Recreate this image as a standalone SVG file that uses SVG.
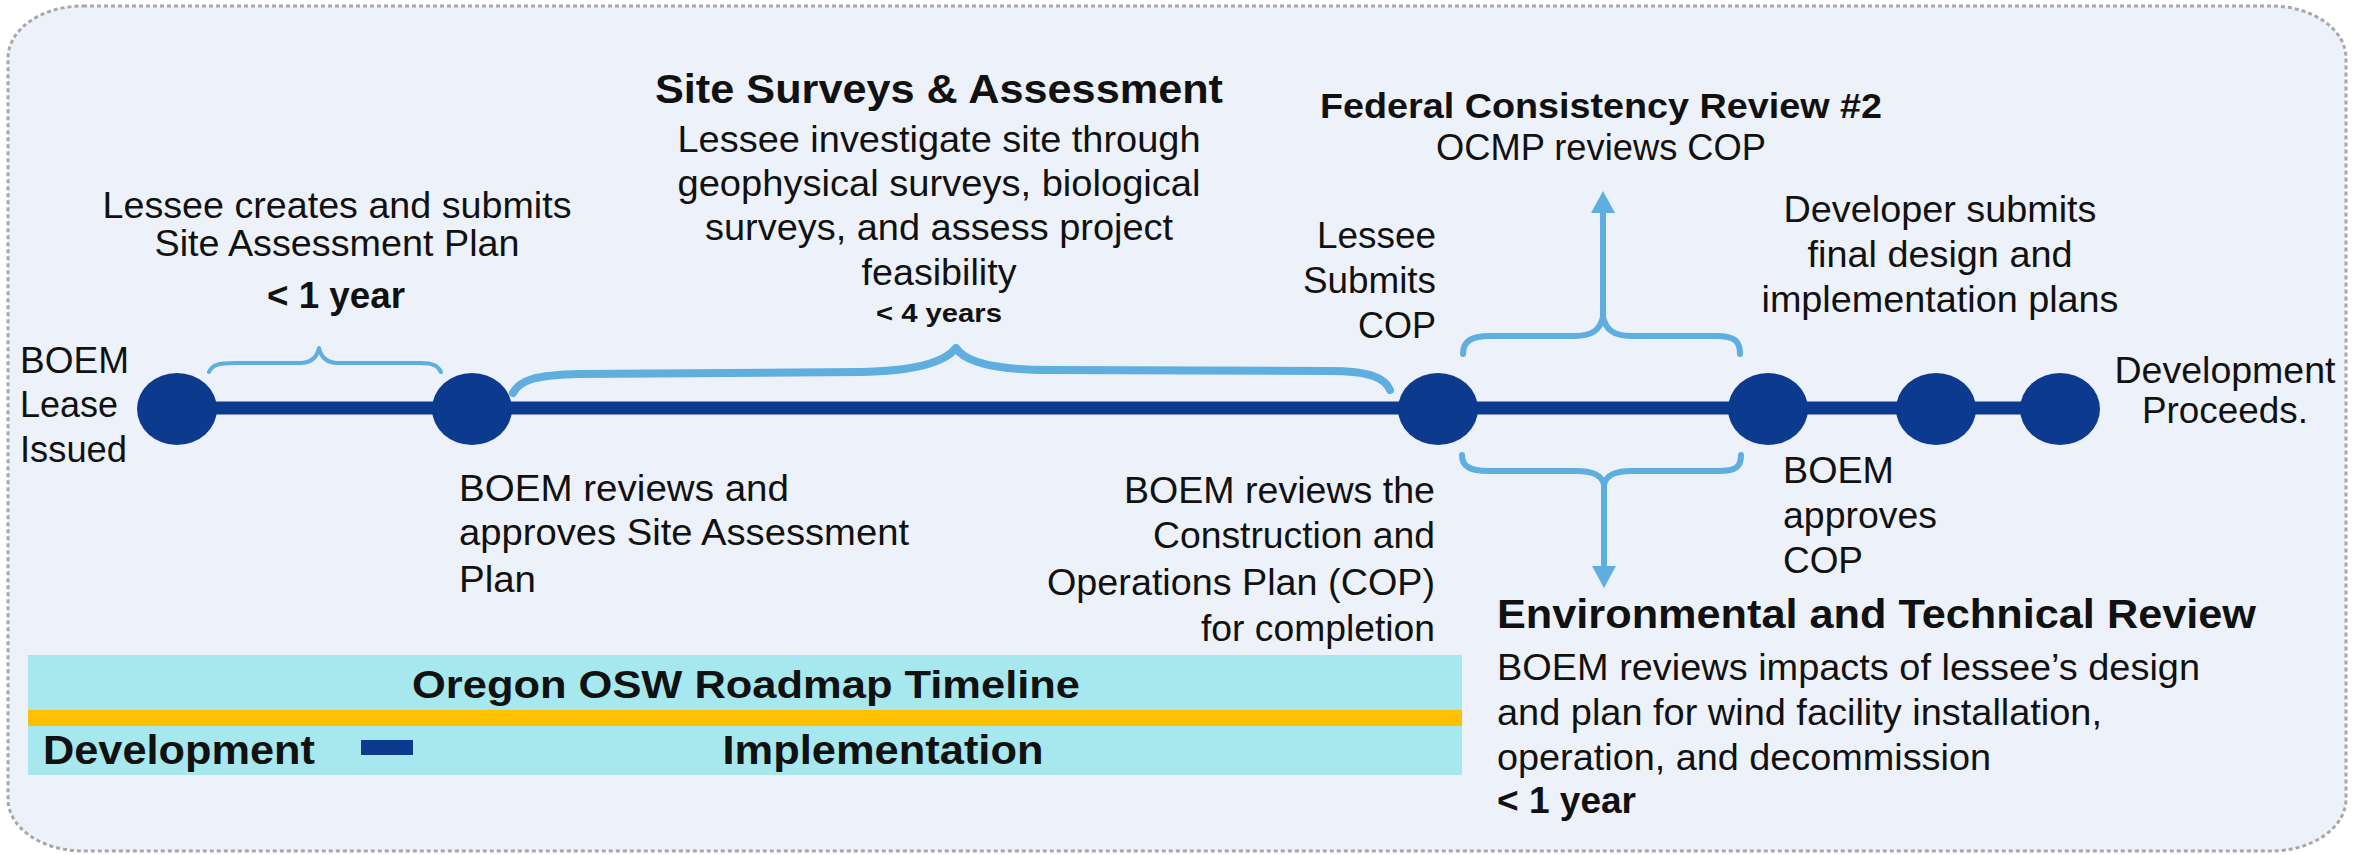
<svg xmlns="http://www.w3.org/2000/svg" width="2367" height="855" viewBox="0 0 2367 855">
<defs>
<style>
.t{font-family:"Liberation Sans",Arial,sans-serif;font-size:37px;fill:#111;}
.b{font-family:"Liberation Sans",Arial,sans-serif;font-weight:bold;fill:#111;}
.m{text-anchor:middle;}
.e{text-anchor:end;}
.node{fill:#0c3a8f;}
.brace{fill:none;stroke:#5eaedf;stroke-linecap:round;stroke-linejoin:round;}
</style>
<marker id="ah" markerUnits="userSpaceOnUse" markerWidth="22" markerHeight="24" refX="0" refY="12" orient="auto">
<path d="M0,0 L22,12 L0,24 z" fill="#5eaedf"/>
</marker>
</defs>
<rect x="0" y="0" width="2367" height="855" fill="#ffffff"/>
<rect id="frame" x="8" y="6" width="2338" height="845" rx="75" ry="52" fill="#edf1f9" stroke="#a8a8a8" stroke-width="3" stroke-dasharray="4 3"/>

<g id="legend">
<rect x="28" y="655" width="1434" height="120" fill="#a6e8ee"/>
<rect x="28" y="710" width="1434" height="16" fill="#ffc000"/>
<text class="b m" x="746" y="698" font-size="38" textLength="668" lengthAdjust="spacingAndGlyphs">Oregon OSW Roadmap Timeline</text>
<text class="b" x="43" y="764" font-size="40" textLength="272" lengthAdjust="spacingAndGlyphs">Development</text>
<rect x="361" y="740" width="52" height="15" fill="#0c3a8f"/>
<text class="b m" x="883" y="764" font-size="40" textLength="321" lengthAdjust="spacingAndGlyphs">Implementation</text>
</g>

<g id="connectors">
<line x1="177" y1="408" x2="2060" y2="408" stroke="#0c3a8f" stroke-width="13"/>
<path class="brace" stroke-width="4" d="M209,372 C212,365 218,363 235,363 L300,363 C312,363 317,357 319,348 C321,357 326,363 338,363 L420,363 C434,363 438,366 441,372"/>
<path class="brace" stroke-width="8" d="M513,393 C520,380 535,375 580,374 L860,372 C915,371 945,362 956,348 C965,362 995,370 1050,370 L1330,371 C1370,371 1385,378 1390,390"/>
<path class="brace" stroke-width="6" d="M1463,354 C1463,342 1470,336 1490,336 L1575,336 C1592,336 1600,330 1603,317 C1606,330 1614,336 1631,336 L1716,336 C1736,336 1740,342 1740,354"/>
<path class="brace" stroke-width="6" marker-end="url(#ah)" d="M1603,318 L1603,213"/>
<path class="brace" stroke-width="6" d="M1462,455 C1462,466 1469,471 1489,471 L1576,471 C1593,471 1601,475 1604,484 C1607,475 1615,471 1632,471 L1719,471 C1737,471 1741,466 1741,455"/>
<path class="brace" stroke-width="6" marker-end="url(#ah)" d="M1604,483 L1604,566"/>
</g>

<g id="node-lease"><ellipse class="node" cx="177" cy="409" rx="40" ry="36"/></g>
<g id="node-sap"><ellipse class="node" cx="472" cy="409" rx="40" ry="36"/></g>
<g id="node-cop"><ellipse class="node" cx="1438" cy="409" rx="40" ry="36"/></g>
<g id="node-approve"><ellipse class="node" cx="1768" cy="409" rx="40" ry="36"/></g>
<g id="node-plans"><ellipse class="node" cx="1936" cy="409" rx="40" ry="36"/></g>
<g id="node-proceed"><ellipse class="node" cx="2060" cy="409" rx="40" ry="36"/></g>

<g id="label-lease">
<text class="t" x="20" y="373" textLength="109" lengthAdjust="spacingAndGlyphs">BOEM</text>
<text class="t" x="20" y="417" textLength="98" lengthAdjust="spacingAndGlyphs">Lease</text>
<text class="t" x="20" y="462" textLength="107" lengthAdjust="spacingAndGlyphs">Issued</text>
</g>

<g id="label-sap-submit">
<text class="t m" x="337" y="218" textLength="469" lengthAdjust="spacingAndGlyphs">Lessee creates and submits</text>
<text class="t m" x="337" y="256" textLength="365" lengthAdjust="spacingAndGlyphs">Site Assessment Plan</text>
<text class="b m" x="336" y="308" font-size="36" textLength="138" lengthAdjust="spacingAndGlyphs">&lt; 1 year</text>
</g>

<g id="label-surveys">
<text class="b m" x="939" y="103" font-size="41" textLength="568" lengthAdjust="spacingAndGlyphs">Site Surveys &amp; Assessment</text>
<text class="t m" x="939" y="152" textLength="523" lengthAdjust="spacingAndGlyphs">Lessee investigate site through</text>
<text class="t m" x="939" y="196" textLength="523" lengthAdjust="spacingAndGlyphs">geophysical surveys, biological</text>
<text class="t m" x="939" y="240" textLength="468" lengthAdjust="spacingAndGlyphs">surveys, and assess project</text>
<text class="t m" x="939" y="285" textLength="155" lengthAdjust="spacingAndGlyphs">feasibility</text>
<text class="b m" x="939" y="322" font-size="26" textLength="126" lengthAdjust="spacingAndGlyphs">&lt; 4 years</text>
</g>

<g id="label-federal">
<text class="b m" x="1601" y="118" font-size="35" textLength="562" lengthAdjust="spacingAndGlyphs">Federal Consistency Review #2</text>
<text class="t m" x="1601" y="160" textLength="330" lengthAdjust="spacingAndGlyphs">OCMP reviews COP</text>
</g>

<g id="label-cop-submit">
<text class="t e" x="1436" y="248" textLength="119" lengthAdjust="spacingAndGlyphs">Lessee</text>
<text class="t e" x="1436" y="293" textLength="133" lengthAdjust="spacingAndGlyphs">Submits</text>
<text class="t e" x="1436" y="338" textLength="78" lengthAdjust="spacingAndGlyphs">COP</text>
</g>

<g id="label-developer">
<text class="t m" x="1940" y="222" textLength="313" lengthAdjust="spacingAndGlyphs">Developer submits</text>
<text class="t m" x="1940" y="267" textLength="265" lengthAdjust="spacingAndGlyphs">final design and</text>
<text class="t m" x="1940" y="312" textLength="357" lengthAdjust="spacingAndGlyphs">implementation plans</text>
</g>

<g id="label-proceeds">
<text class="t m" x="2225" y="383" textLength="221" lengthAdjust="spacingAndGlyphs">Development</text>
<text class="t m" x="2225" y="423" textLength="166" lengthAdjust="spacingAndGlyphs">Proceeds.</text>
</g>

<g id="label-sap-review">
<text class="t" x="459" y="501" textLength="330" lengthAdjust="spacingAndGlyphs">BOEM reviews and</text>
<text class="t" x="459" y="545" textLength="450" lengthAdjust="spacingAndGlyphs">approves Site Assessment</text>
<text class="t" x="459" y="592" textLength="77" lengthAdjust="spacingAndGlyphs">Plan</text>
</g>

<g id="label-cop-review">
<text class="t e" x="1435" y="503" textLength="311" lengthAdjust="spacingAndGlyphs">BOEM reviews the</text>
<text class="t e" x="1435" y="548" textLength="282" lengthAdjust="spacingAndGlyphs">Construction and</text>
<text class="t e" x="1435" y="595" textLength="388" lengthAdjust="spacingAndGlyphs">Operations Plan (COP)</text>
<text class="t e" x="1435" y="641" textLength="234" lengthAdjust="spacingAndGlyphs">for completion</text>
</g>

<g id="label-cop-approve">
<text class="t" x="1783" y="483" textLength="111" lengthAdjust="spacingAndGlyphs">BOEM</text>
<text class="t" x="1783" y="528" textLength="154" lengthAdjust="spacingAndGlyphs">approves</text>
<text class="t" x="1783" y="573" textLength="80" lengthAdjust="spacingAndGlyphs">COP</text>
</g>

<g id="label-environmental">
<text class="b" x="1497" y="628" font-size="40" textLength="759" lengthAdjust="spacingAndGlyphs">Environmental and Technical Review</text>
<text class="t" x="1497" y="680" textLength="703" lengthAdjust="spacingAndGlyphs">BOEM reviews impacts of lessee’s design</text>
<text class="t" x="1497" y="725" textLength="605" lengthAdjust="spacingAndGlyphs">and plan for wind facility installation,</text>
<text class="t" x="1497" y="770" textLength="494" lengthAdjust="spacingAndGlyphs">operation, and decommission</text>
<text class="b" x="1497" y="813" font-size="36" textLength="139" lengthAdjust="spacingAndGlyphs">&lt; 1 year</text>
</g>
</svg>
